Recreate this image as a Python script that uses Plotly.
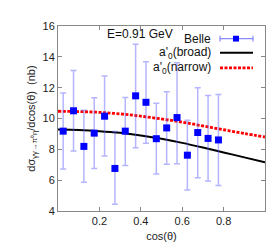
import plotly.graph_objects as go

# Data
cos_theta = [0.025, 0.075, 0.125, 0.175, 0.225, 0.275, 0.325, 0.375,
             0.425, 0.475, 0.525, 0.575, 0.625, 0.675, 0.725, 0.775]
belle_xs = [9.18, 10.50, 8.19, 9.05, 10.15, 6.76, 9.18, 11.47,
            11.05, 8.69, 9.39, 10.06, 7.62, 9.09, 8.71, 8.61]
err_plus = [2.48, 2.62, 2.34, 2.30, 2.60, 2.40, 2.19, 3.35,
            2.63, 2.30, 2.34, 3.56, 2.27, 2.91, 2.78, 2.95]
err_minus = [2.46, 2.61, 2.32, 2.29, 2.59, 2.32, 2.23, 3.37,
             2.65, 2.29, 2.36, 2.99, 2.25, 2.94, 2.77, 2.95]

curve_x = [0.0, 0.1, 0.2, 0.3, 0.4, 0.5, 0.6, 0.7, 0.8, 0.9, 1.0]
broad_y = [9.28, 9.25, 9.18, 9.07, 8.90, 8.68, 8.42, 8.12, 7.80, 7.48, 7.16]
narrow_y = [10.47, 10.45, 10.40, 10.30, 10.15, 9.97, 9.76, 9.52, 9.27, 9.03, 8.80]

x_ticks = [0.2, 0.4, 0.6, 0.8]
y_ticks = [4, 6, 8, 10, 12, 14, 16]

FONT = "Liberation Sans, Arial, sans-serif"
W, H = 277, 245
ML, MR, MT, MB = 50, 20, 14, 41
PW, PH = W - ML - MR, H - MT - MB
RED_DASH = "3px,1.5px"

fig = go.Figure()
fig.add_trace(go.Scatter(
    x=curve_x, y=broad_y, mode="lines", line=dict(color="black", width=2, shape="spline"),
    showlegend=False, name="a'0(broad)"))
fig.add_trace(go.Scatter(
    x=curve_x, y=narrow_y, mode="lines",
    line=dict(color="#ff0000", width=2.8, dash=RED_DASH, shape="spline"),
    showlegend=False, name="a'0(narrow)"))
fig.add_trace(go.Scatter(
    x=cos_theta, y=belle_xs, mode="markers",
    marker=dict(symbol="square", size=7, color="#0000ff"),
    error_y=dict(type="data", symmetric=False, array=err_plus, arrayminus=err_minus,
                 color="rgba(90,90,255,0.45)", thickness=1.5, width=3),
    showlegend=False, name="Belle"))

axis_common = dict(showline=True, linecolor="#888888", linewidth=1, mirror="ticks",
                   ticks="inside", ticklen=4, tickcolor="#888888", showgrid=False,
                   zeroline=False, tickfont=dict(family=FONT, size=11, color="#222222"))

fig.update_layout(
    width=W, height=H,
    margin=dict(l=ML, r=MR, t=MT, b=MB),
    paper_bgcolor="white", plot_bgcolor="white",
    font=dict(family=FONT, size=11, color="#222222"),
    xaxis=dict(range=[0, 1], tickvals=x_ticks, ticktext=[str(v) for v in x_ticks],
               title=dict(text="cos(θ)", font=dict(family=FONT, size=11), standoff=6),
               **axis_common),
    yaxis=dict(range=[4, 16], tickvals=y_ticks,
               title=dict(text="dσ<sub>γγ→π⁰η</sub>/dcos(θ)  (nb)", font=dict(family=FONT, size=11),
                          standoff=4),
               **axis_common),
)


def px_x(px):
    return (px - ML) / PW


def px_y(py):
    return 1 - (py - MT) / PH


# Energy label
fig.add_annotation(x=px_x(132), y=px_y(22), xref="paper", yref="paper", text="E=0.91 GeV",
                   showarrow=False, xanchor="center", yanchor="middle",
                   font=dict(family=FONT, size=12, color="#111111"))

# Manual legend (symbols on the right, as in the reference)
legend_rows = [("Belle", 27), ("a'<sub>0</sub>(broad)", 41.5), ("a'<sub>0</sub>(narrow)", 57)]
for txt, yy in legend_rows:
    fig.add_annotation(x=px_x(205), y=px_y(yy), xref="paper", yref="paper", text=txt,
                       showarrow=False, xanchor="right", yanchor="middle",
                       font=dict(family=FONT, size=12, color="#111111"))

# Belle symbol
fig.add_shape(type="line", xref="paper", yref="paper", x0=px_x(212), x1=px_x(245),
              y0=px_y(27), y1=px_y(27), line=dict(color="rgba(90,90,255,0.7)", width=1.2))
for cx in (212, 245):
    fig.add_shape(type="line", xref="paper", yref="paper", x0=px_x(cx), x1=px_x(cx),
                  y0=px_y(24), y1=px_y(30), line=dict(color="rgba(90,90,255,0.7)", width=1.2))
fig.add_shape(type="rect", xref="paper", yref="paper", x0=px_x(225), x1=px_x(231),
              y0=px_y(24), y1=px_y(30), line=dict(width=0), fillcolor="#0000ff")
# broad
fig.add_shape(type="line", xref="paper", yref="paper", x0=px_x(212), x1=px_x(245),
              y0=px_y(41.5), y1=px_y(41.5), line=dict(color="black", width=2))
# narrow
fig.add_shape(type="line", xref="paper", yref="paper", x0=px_x(212), x1=px_x(245),
              y0=px_y(57), y1=px_y(57), line=dict(color="#ff0000", width=2.8, dash=RED_DASH))

fig.write_html("out.html")
